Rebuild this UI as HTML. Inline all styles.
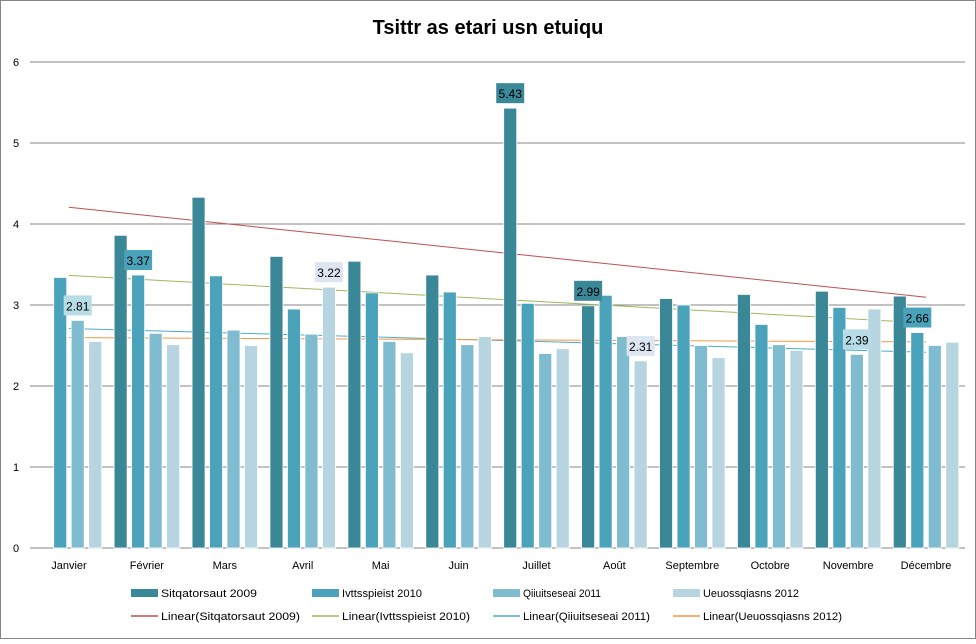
<!DOCTYPE html>
<html><head><meta charset="utf-8"><style>
body{margin:0;background:#fff;}
svg text{font-family:"Liberation Sans",sans-serif;}
</style></head><body>
<svg id="c" width="976" height="639" xmlns="http://www.w3.org/2000/svg">
<rect x="0.5" y="0.5" width="975" height="638" fill="#fff" stroke="#868686"/>
<text x="488" y="34" text-anchor="middle" font-size="20" font-weight="bold" fill="#000">Tsittr as etari usn etuiqu</text>
<g id="grid"></g><g id="trends"></g><g id="bars"></g><g id="labels"></g><g id="legend"></g>
</svg>
<script>
const categories=["Janvier","Février","Mars","Avril","Mai","Juin","Juillet","Août","Septembre","Octobre","Novembre","Décembre"];
const seriesNames=["Sitqatorsaut 2009","Ivttsspieist 2010","Qiiuitseseai 2011","Ueuossqiasns 2012"];
const s2009=[null,3.86,4.33,3.60,3.54,3.37,5.43,2.99,3.08,3.13,3.17,3.11];
const s2010=[3.34,3.37,3.36,2.95,3.15,3.16,3.02,3.12,3.00,2.76,2.97,2.66];
const s2011=[2.81,2.65,2.69,2.64,2.55,2.51,2.40,2.61,2.50,2.51,2.39,2.50];
const s2012=[2.55,2.51,2.50,3.22,2.41,2.61,2.46,2.31,2.35,2.44,2.95,2.54];
const yTicks=[0,1,2,3,4,5,6];
// [seriesIndex, categoryIndex]
const labelPoints=[[2,0],[1,1],[3,3],[0,6],[0,7],[3,7],[2,10],[1,11]];
const series=[s2009,s2010,s2011,s2012];
const colors=["#3a8798","#4aa3bb","#7fbccf","#b6d5e1"];
const labelFill=["#3a8798","#4aa3bb","#b6dce6","#dde5f0"];
const trendColors=["#c0504d","#9bbb59","#4bacc6","#f79646"];
const NS="http://www.w3.org/2000/svg";
const L=30,R=965,Y0=548,Y6=62;
const step=(R-L)/12;
function y(v){return Y0-(v/6)*(Y0-Y6);}
function cx(i){return L+step*(i+0.5);}
function mk(t,a,p){const e=document.createElementNS(NS,t);for(const k in a)e.setAttribute(k,a[k]);document.getElementById(p).appendChild(e);return e;}
yTicks.forEach(t=>{
 const g=mk('line',{x1:L,x2:R,y1:y(t),y2:y(t),stroke:'#868686','stroke-width':1},'grid');
 
 
 const tx=mk('text',{x:16,y:y(t)+4,'font-size':11,'text-anchor':'middle',fill:'#000'},'grid');tx.textContent=t;
 
 
});
categories.forEach((c,i)=>{
 const tx=mk('text',{x:cx(i),y:569,'font-size':11,'text-anchor':'middle',fill:'#000'},'grid');tx.textContent=c;
 
 
});
series.forEach((s,k)=>{
 const pts=[];s.forEach((v,i)=>{if(v!=null)pts.push([i+1,v]);});
 const n=pts.length,mx=pts.reduce((a,p)=>a+p[0],0)/n,my=pts.reduce((a,p)=>a+p[1],0)/n;
 let sxy=0,sxx=0;pts.forEach(p=>{sxy+=(p[0]-mx)*(p[1]-my);sxx+=(p[0]-mx)**2;});
 const b=sxy/sxx,a=my-b*mx;
 const ln=mk('line',{x1:cx(0),x2:cx(11),y1:y(a+b),y2:y(a+b*12),stroke:trendColors[k],'stroke-width':1},'trends');
 
 
});
const bw=13,bs=17.5;
series.forEach((s,k)=>{
 s.forEach((v,i)=>{
  if(v==null)return;
  const x=cx(i)+(k-1.5)*bs-bw/2;
  const r=mk('rect',{x:x,y:y(v),width:bw,height:Y0-y(v),fill:colors[k],stroke:'#fff','stroke-width':0.8},'bars');
  
  
 });
});
labelPoints.forEach(([k,i])=>{
 const v=series[k][i];const bx=cx(i)+(k-1.5)*bs;const top=y(v);
 const w=28,h=20;
 const r=mk('rect',{x:bx-w/2,y:top-5-h,width:w,height:h,fill:labelFill[k]},'labels');
 
 
 const t=mk('text',{x:bx,y:top-10,'font-size':12,'text-anchor':'middle',fill:'#000'},'labels');t.textContent=v.toFixed(2);
 
 
});
const lx=[131,312,493,673];
const lw=[96,80,78,96];
const lw2=[139,128,127,139];
seriesNames.forEach((nm,k)=>{
 const r=mk('rect',{x:lx[k],y:589,width:27,height:8,fill:colors[k]},'legend');
 
 
 const t=mk('text',{x:lx[k]+30,y:597,'font-size':11,fill:'#000',textLength:lw[k],lengthAdjust:'spacingAndGlyphs'},'legend');t.textContent=nm;
 
 
 const l=mk('line',{x1:lx[k],x2:lx[k]+27,y1:616,y2:616,stroke:trendColors[k],'stroke-width':1.5},'legend');
 
 
 const t2=mk('text',{x:lx[k]+30,y:620,'font-size':11,fill:'#000',textLength:lw2[k],lengthAdjust:'spacingAndGlyphs'},'legend');t2.textContent='Linear('+nm+')';
 
 
});
</script>
</body></html>
